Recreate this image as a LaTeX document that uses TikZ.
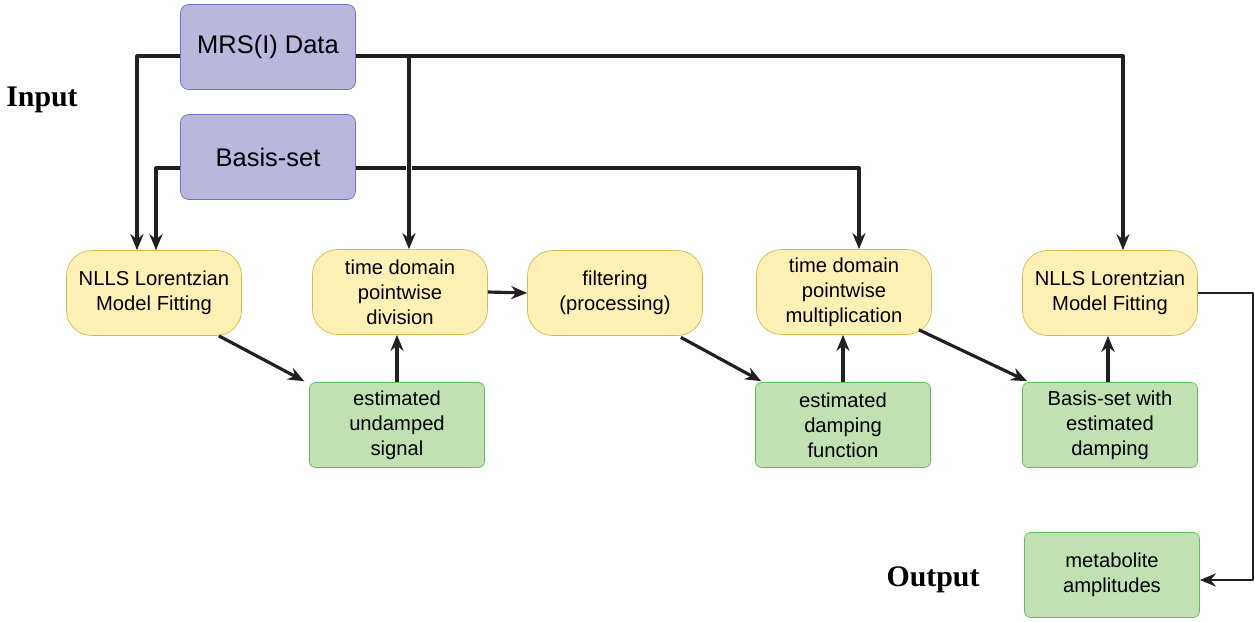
\documentclass[tikz,border=0pt]{standalone}
\usepackage{fontspec}
\setmainfont{Liberation Sans}
\newfontfamily\titlefont{Liberation Serif}
\usetikzlibrary{arrows.meta}
\definecolor{inpfill}{HTML}{BAB7DD}
\definecolor{inpline}{HTML}{6F73C6}
\definecolor{procfill}{HTML}{FFF0B5}
\definecolor{procline}{HTML}{D9B84E}
\definecolor{resfill}{HTML}{C1E1B3}
\definecolor{resline}{HTML}{5CBF5C}
\definecolor{wire}{HTML}{231F20}
\tikzset{
  inpbox/.style={draw=inpline, fill=inpfill, rounded corners=1.6mm, minimum width=3.5cm, minimum height=1.7cm,
    font=\fontsize{14.5}{17}\selectfont},
  procbox/.style={draw=procline, fill=procfill, rounded corners=5mm, minimum width=3.5cm, minimum height=1.7cm,
    align=center, font=\fontsize{11.5}{14.3}\selectfont},
  resbox/.style={draw=resline, fill=resfill, rounded corners=1.2mm, minimum width=3.5cm, minimum height=1.7cm,
    align=center, font=\fontsize{11.5}{14.3}\selectfont},
  flow/.style={draw=wire, line width=1.8pt, -{Stealth[length=3.2mm, width=2.6mm]}},
  sidelabel/.style={font=\titlefont\bfseries\fontsize{17}{20}\selectfont}
}
\begin{document}
\begin{tikzpicture}[x=0.02cm, y=-0.02cm, line join=round]
  \useasboundingbox (0,0) rectangle (1255,622);
  % las entradas
  \node[inpbox] (mrs) at (268,47) {MRS(I) Data};
  \node[inpbox] (basis) at (268,157) {Basis-set};
  \node[sidelabel] (inlab) at (42,100) {Input};
  % los pasos
  \node[procbox] (nl1) at (154,293) {NLLS Lorentzian\\Model Fitting};
  \node[procbox] (div) at (400,292) {time domain\\pointwise\\division};
  \node[procbox] (flt) at (615,293) {filtering\\(processing)};
  \node[procbox] (mul) at (844,292) {time domain\\pointwise\\multiplication};
  \node[procbox] (nl2) at (1110,293) {NLLS Lorentzian\\Model Fitting};
  % los resultados
  \node[resbox] (und) at (397,425) {estimated\\undamped\\signal};
  \node[resbox] (dmp) at (843,425) {estimated\\damping\\function};
  \node[resbox] (bdm) at (1110,425) {Basis-set with\\estimated\\damping};
  \node[resbox] (met) at (1112,575) {metabolite\\amplitudes};
  \node[sidelabel] (outlab) at (933,580) {Output};
  % las líneas de arriba
  \coordinate (mrsout) at ([yshift=-1.8mm]mrs.east);
  \coordinate (divin) at ([xshift=1.8mm]div.north);
  \draw[flow] ([yshift=-1.8mm]mrs.west) -| ([xshift=-3.4mm]nl1.north);
  \draw[flow] ([yshift=-2.2mm]basis.west) -| ([xshift=0.4mm]nl1.north);
  \draw[flow] (mrsout) -| ([xshift=2.6mm]nl2.north);
  \draw[flow] ([yshift=-2.2mm]basis.east) -| ([xshift=3mm]mul.north);
  \draw[flow, preaction={draw=white, line width=3.8pt, -, shorten <=4pt}] (mrsout -| divin) -- (divin);
  % las flechas del medio
  \draw[flow] ([xshift=-4.6mm]nl1.south east) -- ([xshift=-1mm, yshift=0.2mm]und.north west);
  \draw[flow] (und.north) -- (und.north |- div.south);
  \draw[flow] (div.east) -- (flt.west);
  \draw[flow] ([xshift=-4.4mm, yshift=-0.3mm]flt.south east) -- ([xshift=1.2mm, yshift=0.2mm]dmp.north west);
  \draw[flow] (dmp.north) -- (dmp.north |- mul.south);
  \draw[flow] ([xshift=-2.6mm, yshift=1mm]mul.south east) -- ([xshift=1mm, yshift=0.2mm]bdm.north west);
  \draw[flow] ([xshift=-0.4mm]bdm.north) -- ([xshift=-0.4mm]bdm.north |- nl2.south);
  % la salida
  \draw[flow, line width=1.5pt] (nl2.east) -- ++(55,0) |- ([yshift=-1mm]met.east);
\end{tikzpicture}
\end{document}
